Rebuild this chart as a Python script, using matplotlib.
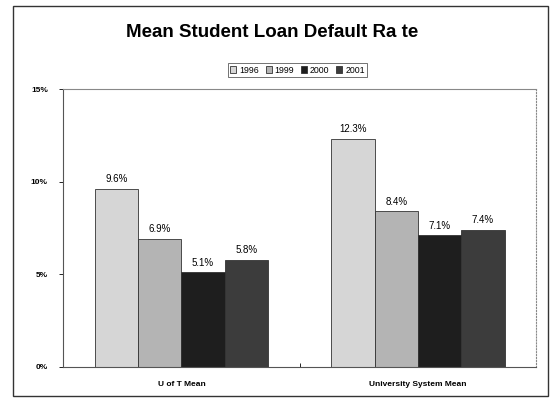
import numpy as np
import matplotlib.pyplot as plt
from matplotlib.patches import Rectangle

plt.rcParams['font.family'] = ['Liberation Sans', 'DejaVu Sans']

# 数据
categories = ['U of T Mean', 'University System Mean']
years = ['1996', '1999', '2000', '2001']
values = {
    '1996': [9.6, 12.3],
    '1999': [6.9, 8.4],
    '2000': [5.1, 7.1],
    '2001': [5.8, 7.4],
}
yticks = [0, 5, 10, 15]
ytick_labels = ['0%', '5%', '10%', '15%']

colors = ['#d6d6d6', '#b4b4b4', '#1e1e1e', '#3c3c3c']

fig = plt.figure(figsize=(5.54, 4.05), dpi=100)
ax = fig.add_axes([0.114, 0.094, 0.854, 0.686])

x = np.arange(len(categories))
width = 0.183
for i, year in enumerate(years):
    pos = x + (i - 1.5) * width
    bars = ax.bar(pos, values[year], width, color=colors[i], edgecolor='#333333',
                  linewidth=0.6, label=year)
    for b, v in zip(bars, values[year]):
        ax.text(b.get_x() + b.get_width() / 2, v + 0.25, f'{v:.1f}%',
                ha='center', va='bottom', fontsize=7)

ax.set_xlim(-0.5, 1.5)
ax.set_ylim(0, 15)
ax.set_yticks(yticks)
ax.set_yticklabels(ytick_labels, fontsize=6, fontweight='bold')
ax.set_xticks(x)
ax.set_xticklabels(categories, fontsize=6, fontweight='bold')
ax.set_xticks([0.5], minor=True)
ax.tick_params(axis='x', which='major', length=0, pad=10)
ax.tick_params(axis='x', which='minor', length=3, direction='in')
ax.tick_params(axis='y', length=3, width=0.6, pad=8)

for side in ['top', 'right']:
    ax.spines[side].set_color('#888888')
    ax.spines[side].set_linewidth(0.8)
ax.spines['right'].set_linestyle(':')
ax.spines['left'].set_color('#555555')
ax.spines['bottom'].set_color('#555555')

fig.text(0.492, 0.92, 'Mean Student Loan Default Ra te', ha='center', va='center',
         fontsize=13.5, fontweight='bold')

leg = fig.legend(loc='center', bbox_to_anchor=(0.537, 0.827), ncol=4, fontsize=6.3,
                 frameon=True, fancybox=False, edgecolor='#333333', handlelength=0.7,
                 handleheight=0.7, handletextpad=0.3, columnspacing=0.8,
                 borderpad=0.3)
leg.get_frame().set_linewidth(0.6)

# 外框
fig.patches.append(Rectangle((13 / 554, 1 - 396 / 405), (548 - 13) / 554, (396 - 6) / 405,
                             transform=fig.transFigure, fill=False, edgecolor='#333333',
                             linewidth=1.0))

fig.savefig('out.png', dpi=100)
